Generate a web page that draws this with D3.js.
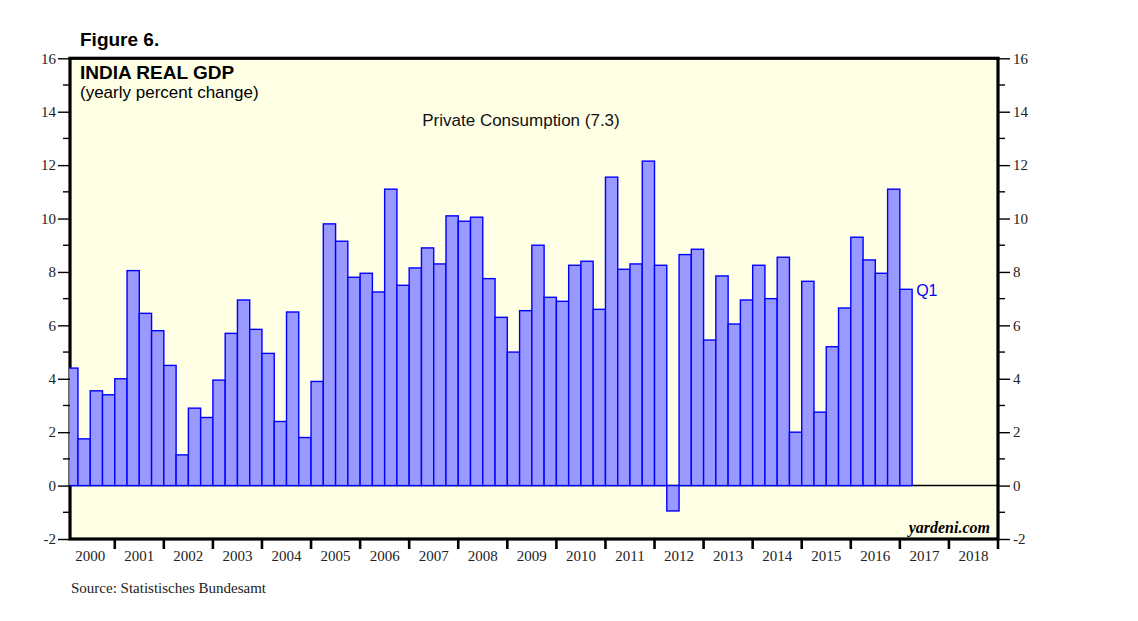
<!DOCTYPE html>
<html>
<head>
<meta charset="utf-8">
<script src="https://cdn.jsdelivr.net/npm/d3@7"></script>
<style>
  body { margin: 0; background: #fff; }
  svg { display: block; }
</style>
</head>
<body>
<div id="chart"></div>
<script>
// quarterly data, 2000 Q1 .. 2017 Q1
var startYear = 2000;
var consumption = [
  4.4, 1.75, 3.55, 3.4,
  4.0, 8.05, 6.45, 5.8,
  4.5, 1.15, 2.9, 2.55,
  3.95, 5.7, 6.95, 5.85,
  4.95, 2.4, 6.5, 1.8,
  3.9, 9.8, 9.15, 7.8,
  7.95, 7.25, 11.1, 7.5,
  8.15, 8.9, 8.3, 10.1,
  9.9, 10.05, 7.75, 6.3,
  5.0, 6.55, 9.0, 7.05,
  6.9, 8.25, 8.4, 6.6,
  11.55, 8.1, 8.3, 12.15,
  8.25, -0.95, 8.65, 8.85,
  5.45, 7.85, 6.05, 6.95,
  8.25, 7.0, 8.55, 2.0,
  7.65, 2.75, 5.2, 6.65,
  9.3, 8.45, 7.95, 11.1,
  7.35
];
var yearLabels = d3.range(2000, 2019);
var yTicks = [-2, 0, 2, 4, 6, 8, 10, 12, 14, 16];
var yMinor = [-1, 1, 3, 5, 7, 9, 11, 13, 15];

var svgWidth = 1138;
var svgHeight = 621;

// plot frame edges
var plotLeft = 70, plotRight = 998, plotTop = 58.3, plotBottom = 539;

var svg = d3.select("#chart")
  .append("svg")
  .attr("width", svgWidth)
  .attr("height", svgHeight);

var x = d3.scaleLinear()
  .domain([2000, 2019])
  .range([65.7, 998]);

var y = d3.scaleLinear()
  .domain([-2, 16])
  .range([plotBottom, plotTop]);

// plot background
svg.append("rect")
  .attr("x", plotLeft)
  .attr("y", plotTop)
  .attr("width", plotRight - plotLeft)
  .attr("height", plotBottom - plotTop)
  .attr("fill", "#ffffe6");

// frame
svg.append("rect")
  .attr("x", plotLeft)
  .attr("y", plotTop)
  .attr("width", plotRight - plotLeft)
  .attr("height", plotBottom - plotTop)
  .attr("fill", "none")
  .attr("stroke", "#000")
  .attr("stroke-width", 3.2);

// zero line
svg.append("line")
  .attr("x1", plotLeft).attr("x2", plotRight)
  .attr("y1", y(0)).attr("y2", y(0))
  .attr("stroke", "#000")
  .attr("stroke-width", 1.5);

// bars (clipped to the plot's left edge)
svg.append("clipPath").attr("id", "clip")
  .append("rect")
  .attr("x", plotLeft - 0.8).attr("y", 0)
  .attr("width", plotRight - plotLeft + 1).attr("height", svgHeight);

svg.append("g")
  .attr("clip-path", "url(#clip)")
  .selectAll("rect")
  .data(consumption)
  .enter()
  .append("rect")
  .attr("x", (d, i) => x(startYear + i / 4))
  .attr("width", (d, i) => x(startYear + (i + 1) / 4) - x(startYear + i / 4))
  .attr("y", d => y(Math.max(0, d)))
  .attr("height", d => Math.abs(y(d) - y(0)))
  .attr("fill", "#9999ff")
  .attr("stroke", "#0000ff")
  .attr("stroke-width", 1.4);

// left axis
var leftAxis = d3.axisLeft(y).tickValues(yTicks).tickSize(12).tickPadding(2).tickFormat(d => String(d));
var gl = svg.append("g")
  .attr("transform", `translate(${plotLeft}, 0)`)
  .call(leftAxis);
gl.select(".domain").remove();
gl.selectAll("line").attr("stroke-width", 1.4);
gl.selectAll("text").attr("font-family", "Liberation Serif, Times New Roman, serif").attr("font-size", 15).attr("fill", "#222");

var rightAxis = d3.axisRight(y).tickValues(yTicks).tickSize(12).tickPadding(3).tickFormat(d => String(d));
var gr = svg.append("g")
  .attr("transform", `translate(${plotRight}, 0)`)
  .call(rightAxis);
gr.select(".domain").remove();
gr.selectAll("line").attr("stroke-width", 1.4);
gr.selectAll("text").attr("font-family", "Liberation Serif, Times New Roman, serif").attr("font-size", 15).attr("fill", "#222");

// minor ticks
svg.append("g").selectAll("line")
  .data(yMinor)
  .enter()
  .append("line")
  .attr("x1", plotLeft - 7).attr("x2", plotLeft)
  .attr("y1", d => y(d)).attr("y2", d => y(d))
  .attr("stroke", "#000").attr("stroke-width", 1.4);
svg.append("g").selectAll("line")
  .data(yMinor)
  .enter()
  .append("line")
  .attr("x1", plotRight).attr("x2", plotRight + 7)
  .attr("y1", d => y(d)).attr("y2", d => y(d))
  .attr("stroke", "#000").attr("stroke-width", 1.4);

// year separators and labels
svg.append("g").selectAll("line")
  .data(d3.range(2001, 2020))
  .enter()
  .append("line")
  .attr("x1", d => x(d)).attr("x2", d => x(d))
  .attr("y1", plotBottom).attr("y2", plotBottom + 10)
  .attr("stroke", "#000").attr("stroke-width", 2.6);

svg.append("g").selectAll("text")
  .data(yearLabels)
  .enter()
  .append("text")
  .attr("x", d => x(d + 0.5))
  .attr("y", 561)
  .attr("text-anchor", "middle")
  .attr("font-family", "Liberation Serif, Times New Roman, serif")
  .attr("font-size", 15)
  .attr("fill", "#222")
  .text(d => d);

// titles
svg.append("text")
  .attr("x", 80).attr("y", 46)
  .attr("font-family", "Liberation Sans, Arial, sans-serif")
  .attr("font-weight", "bold")
  .attr("font-size", 19)
  .text("Figure 6.");

svg.append("text")
  .attr("x", 80).attr("y", 79)
  .attr("font-family", "Liberation Sans, Arial, sans-serif")
  .attr("font-weight", "bold")
  .attr("font-size", 19)
  .text("INDIA REAL GDP");

svg.append("text")
  .attr("x", 80).attr("y", 98)
  .attr("font-family", "Liberation Sans, Arial, sans-serif")
  .attr("font-size", 17)
  .text("(yearly percent change)");

svg.append("text")
  .attr("x", 521).attr("y", 126)
  .attr("text-anchor", "middle")
  .attr("font-family", "Liberation Sans, Arial, sans-serif")
  .attr("font-size", 17)
  .attr("fill", "#111")
  .text("Private Consumption (7.3)");

var last = consumption.length - 1;
svg.append("text")
  .attr("x", x(startYear + (last + 1) / 4) + 4)
  .attr("y", y(consumption[last]) + 6.5)
  .attr("font-family", "Liberation Sans, Arial, sans-serif")
  .attr("font-size", 16)
  .attr("fill", "#0000ff")
  .text("Q1");

svg.append("text")
  .attr("x", 990).attr("y", 533)
  .attr("text-anchor", "end")
  .attr("font-family", "Liberation Serif, Times New Roman, serif")
  .attr("font-weight", "bold")
  .attr("font-style", "italic")
  .attr("font-size", 16)
  .text("yardeni.com");

svg.append("text")
  .attr("x", 71).attr("y", 593)
  .attr("font-family", "Liberation Serif, Times New Roman, serif")
  .attr("font-size", 15)
  .attr("fill", "#222")
  .text("Source: Statistisches Bundesamt");
</script>
</body>
</html>
